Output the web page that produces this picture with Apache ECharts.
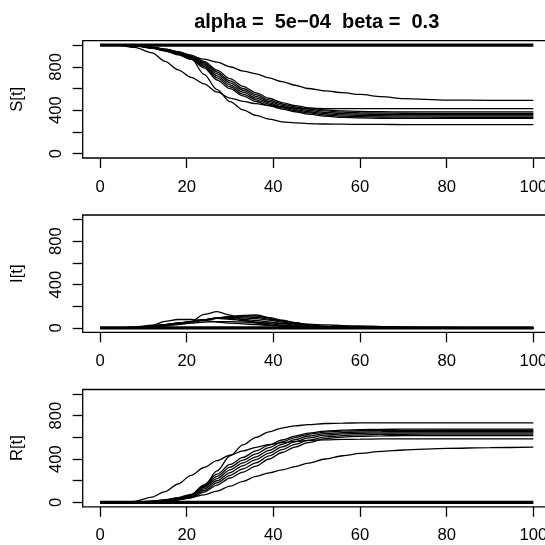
<!DOCTYPE html>
<html><head><meta charset="utf-8">
<script src="https://cdn.jsdelivr.net/npm/echarts@6/dist/echarts.min.js"></script>
<style>html,body{margin:0;padding:0;background:#fff}#c{width:545px;height:545px}</style>
</head><body><div id="c"></div>
<script>
// ---------------- data ----------------
const titleText = 'alpha =  5e\u221204  beta =  0.3';
const panelNames = ['S[t]', 'I[t]', 'R[t]'];
const times = [0,4,8,12,15,18,21,24,27,30,33,36,39,42,45,48,52,56,60,65,70,80,90,100];
const xTicks = [0,20,40,60,80,100];
const yTicks = [0,200,400,600,800,1000];
const yLabels = [0,400,800];

// susceptible
const S_A  = [1000,1000,978,928,850,772,703,643,568,512,482,460,442,428,421,417,415,414,414,414,414,414,414,414];
const S_B  = [1000,1000,996,980,958,925,880,730,590,479,404,352,318,293,284,277,273,271,270,269,268,267,267,267];
const S_C  = [1000,1000,997,982,962,938,900,870,843,800,760,735,697,663,630,600,578,562,545,525,507,493,491,491];
const S_D1 = [1000,1000,998,980,962,940,908,850,770,690,620,560,510,470,442,422,404,394,389,386,385,384,384,384];
const S_D2 = [1000,1000,997,978,958,933,898,838,752,670,600,543,495,457,430,410,393,382,376,373,372,371,371,371];
const S_D3 = [1000,1000,996,977,955,927,890,826,735,652,583,528,481,445,418,398,380,369,364,361,360,359,359,359];
const S_D4 = [1000,999,995,975,952,921,884,815,716,634,566,512,468,432,406,386,368,357,352,349,348,347,347,347];
const S_D5 = [1000,999,994,973,948,916,876,802,697,616,549,496,455,421,396,375,356,345,340,337,336,335,335,335];
const S_D6 = [1000,999,993,970,945,910,868,790,678,598,532,480,442,410,386,364,345,334,329,326,325,325,325,325];
const S_X  = [1000,1000,1000,1000,1000,1000,1000,1000,1000,1000,1000,1000,1000,1000,1000,1000,1000,1000,1000,1000,1000,1000,1000,1000];

// infected
const I_A  = [1,2,10,25,60,78,78,70,55,45,38,30,24,20,16,13,9,6,4,2,1,0,0,0];
const I_B  = [1,1,2,8,20,38,60,125,150,118,75,45,28,18,10,6,3,2,1,0,0,0,0,0];
const I_C  = [1,1,3,10,20,32,45,55,58,58,55,50,46,42,38,34,28,22,18,13,9,4,2,0];
const I_D1 = [1,2,3,15,27,39,53,76,91,106,116,121,96,71,49,29,12,6,3,2,1,1,0,0];
const I_D2 = [1,2,3,16,28,41,55,76,92,104,110,110,90,68,48,30,14,7,4,2,1,1,0,0];
const I_D3 = [1,2,4,17,29,42,56,75,92,100,102,98,82,62,44,28,14,7,4,2,1,1,0,0];
const I_D4 = [1,2,4,17,30,44,57,73,90,95,92,86,72,55,38,25,12,6,3,2,1,0,0,0];
const I_D5 = [1,2,5,18,30,45,58,72,89,88,80,70,56,40,27,17,8,4,2,1,1,0,0,0];
const I_D6 = [1,2,5,19,31,46,58,71,88,80,68,56,40,27,16,10,5,3,2,1,1,0,0,0];
const I_X  = [1,1,1,0,0,0,0,0,0,0,0,0,0,0,0,0,0,0,0,0,0,0,0,0];

// recovered
const R_A  = [0,0,10,50,100,170,250,322,385,435,475,508,533,550,562,570,576,580,583,585,586,586,586,586];
const R_B  = [0,1,4,10,18,35,70,150,290,430,530,600,650,685,705,717,727,731,732,733,733,733,733,733];
const R_C  = [0,0,2,8,15,28,45,70,105,150,195,240,272,300,330,362,400,430,451,470,483,498,505,509];
const R_D1 = [0,0,1,6,12,22,42,95,160,225,280,335,400,460,510,550,588,602,609,613,615,616,616,616];
const R_D2 = [0,0,1,7,15,27,48,110,180,250,310,365,428,487,535,573,603,616,622,626,628,629,629,629];
const R_D3 = [0,0,2,8,17,31,55,125,200,275,340,395,455,512,558,594,620,631,636,639,640,641,641,641];
const R_D4 = [0,1,2,9,19,35,62,138,220,300,365,420,480,535,578,612,634,643,648,651,652,653,653,653];
const R_D5 = [0,1,3,10,22,40,68,150,240,325,390,448,505,557,597,627,648,656,660,663,664,665,665,665];
const R_D6 = [0,1,3,12,25,45,75,162,260,350,415,475,528,575,610,638,657,666,670,673,675,675,675,675];
const R_X  = [0,0,0,1,1,1,1,1,1,1,1,1,1,1,1,1,1,1,1,1,1,1,1,1];

const outbreakRuns = [
  [S_A, I_A, R_A], [S_B, I_B, R_B], [S_C, I_C, R_C],
  [S_D1, I_D1, R_D1], [S_D2, I_D2, R_D2], [S_D3, I_D3, R_D3],
  [S_D4, I_D4, R_D4], [S_D5, I_D5, R_D5], [S_D6, I_D6, R_D6]
];
const extinctRun = [S_X, I_X, R_X];

// ---------------- chart ----------------
const FONT = 'Liberation Sans';
const FS = 16.67;
const gridTops = [40.7, 215, 389.5];

const grids = gridTops.map(top => ({
  left: 82.7, top: top, width: 468, height: 117.3,
  show: true, borderColor: '#000', borderWidth: 1.3, backgroundColor: 'transparent',
  containLabel: false, outerBoundsMode: 'none'
}));

const xAxes = gridTops.map((_, p) => ({
  type: 'value', gridIndex: p, min: -4, max: 104,
  axisLine: { show: false, onZero: false },
  splitLine: { show: false },
  axisTick: { show: true, inside: false, length: 10, customValues: xTicks,
              lineStyle: { color: '#000', width: 1.3 } },
  axisLabel: { show: true, customValues: xTicks, color: '#000', fontFamily: FONT,
               fontSize: FS, margin: 20.5, hideOverlap: false }
}));

const yAxes = gridTops.map((_, p) => ({
  type: 'value', gridIndex: p, min: -40, max: 1040,
  axisLine: { show: false, onZero: false },
  splitLine: { show: false },
  axisTick: { show: true, inside: false, length: 10, customValues: yTicks,
              lineStyle: { color: '#000', width: 1.3 } },
  axisLabel: { show: true, customValues: yLabels, rotate: 90, color: '#000',
               fontFamily: FONT, fontSize: FS, margin: 17.5, hideOverlap: false },
  name: panelNames[p], nameLocation: 'middle', nameRotate: 90, nameGap: 57,
  nameTextStyle: { color: '#000', fontFamily: FONT, fontSize: FS }
}));

const series = [];
for (let p = 0; p < 3; p++) {
  outbreakRuns.forEach(run => {
    series.push({
      type: 'line', xAxisIndex: p, yAxisIndex: p,
      data: times.map((t, i) => [t, run[p][i]]),
      symbol: 'none', smooth: 0.3, smoothMonotone: 'x', silent: true,
      lineStyle: { color: '#000', width: 1.3 }
    });
  });
  series.push({
    type: 'line', xAxisIndex: p, yAxisIndex: p,
    data: times.map((t, i) => [t, extinctRun[p][i]]),
    symbol: 'none', silent: true,
    lineStyle: { color: '#000', width: 3.2 }
  });
}

const chart = echarts.init(document.getElementById('c'), null, { renderer: 'canvas' });
chart.setOption({
  animation: false,
  backgroundColor: '#fff',
  textStyle: { fontFamily: FONT },
  grid: grids, xAxis: xAxes, yAxis: yAxes, series: series,
  graphic: [{
    type: 'text', x: 316.7, y: 22,
    style: { text: titleText, fontFamily: FONT, fontSize: 20, fontWeight: 'bold',
             fill: '#000', align: 'center', verticalAlign: 'middle' }
  }]
});
</script></body></html>
